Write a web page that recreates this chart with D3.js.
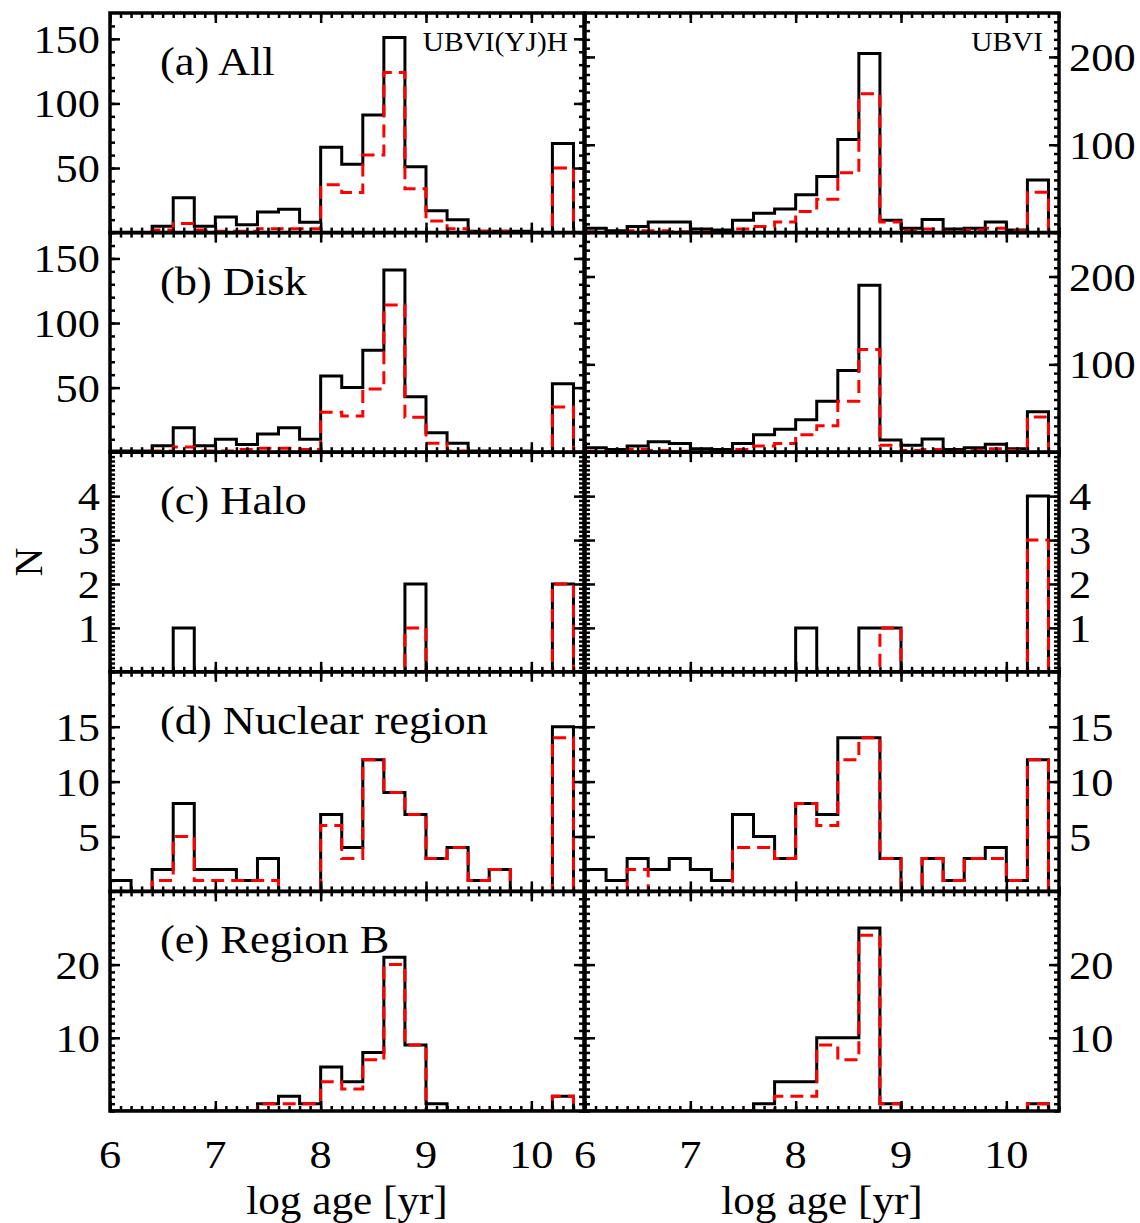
<!DOCTYPE html>
<html>
<head>
<meta charset="utf-8">
<title>log age histograms</title>
<script src="https://d3js.org/d3.v7.min.js"></script>
<style>
body { margin: 0; background: #fff; }
svg text { font-family: "Liberation Serif", "Times New Roman", serif; fill: #000; }
.solid { fill: none; stroke: #000; stroke-width: 3; }
.dash { fill: none; stroke: #ff0000; stroke-width: 3; stroke-dasharray: 13 7; }
.frame { fill: none; stroke: #000; stroke-width: 3.5; }
.ax path { display: none; }
.ax line { stroke: #000; stroke-width: 2.5; }
</style>
</head>
<body>
<script>
// lower edges of the log-age bins (0.2 dex wide)
var binLo = [6.0, 6.2, 6.4, 6.6, 6.8, 7.0, 7.2, 7.4, 7.6, 7.8, 8.0,
             8.2, 8.4, 8.6, 8.8, 9.0, 9.2, 9.4, 9.6, 9.8, 10.0, 10.2];
var binWidth = 0.2;

var panelNames = ["(a) All", "(b) Disk", "(c) Halo", "(d) Nuclear region", "(e) Region B"];
var colNames = ["UBVI(YJ)H", "UBVI"];

// left column: UBVI(YJ)H ; right column: UBVI
var aLeftSolid  = [0, 0, 5, 27, 5, 12, 6, 16, 18, 8, 66, 53, 91, 151, 51, 17, 10, 1, 1, 1, 0, 69];
var aLeftDash   = [0, 0, 2, 7, 2, 1, 1, 3, 3, 3, 37, 31, 60, 124, 34, 9, 3, 1, 1, 0, 0, 50];
var aRightSolid = [5, 2, 7, 12, 12, 4, 3, 14, 22, 27, 43, 64, 106, 204, 14, 5, 15, 4, 5, 12, 3, 60];
var aRightDash  = [1, 0, 2, 2, 1, 1, 0, 4, 7, 12, 24, 38, 68, 158, 12, 2, 4, 1, 3, 5, 2, 46];

var bLeftSolid  = [1, 1, 5, 19, 5, 10, 6, 14, 19, 10, 59, 50, 79, 141, 43, 15, 7, 1, 1, 1, 0, 53];
var bLeftDash   = [0, 0, 1, 4, 1, 1, 2, 3, 3, 2, 31, 28, 49, 114, 27, 7, 1, 0, 0, 0, 0, 35];
var bRightSolid = [5, 3, 7, 12, 10, 4, 3, 10, 20, 26, 37, 58, 93, 190, 14, 8, 15, 3, 5, 9, 4, 46];
var bRightDash  = [1, 0, 3, 2, 1, 0, 0, 3, 7, 10, 20, 30, 58, 117, 8, 2, 3, 1, 2, 4, 2, 40];

var cLeftSolid  = [0, 0, 0, 1, 0, 0, 0, 0, 0, 0, 0, 0, 0, 0, 2, 0, 0, 0, 0, 0, 0, 2];
var cLeftDash   = [0, 0, 0, 0, 0, 0, 0, 0, 0, 0, 0, 0, 0, 0, 1, 0, 0, 0, 0, 0, 0, 2];
var cRightSolid = [0, 0, 0, 0, 0, 0, 0, 0, 0, 0, 1, 0, 0, 1, 1, 0, 0, 0, 0, 0, 0, 4];
var cRightDash  = [0, 0, 0, 0, 0, 0, 0, 0, 0, 0, 0, 0, 0, 0, 1, 0, 0, 0, 0, 0, 0, 3];

var dLeftSolid  = [1, 0, 2, 8, 2, 2, 1, 3, 0, 0, 7, 4, 12, 9, 7, 3, 4, 1, 2, 0, 0, 15];
var dLeftDash   = [0, 0, 1, 5, 1, 1, 1, 1, 0, 0, 6, 3, 12, 9, 7, 3, 4, 1, 2, 0, 0, 14];
var dRightSolid = [2, 1, 3, 2, 3, 2, 1, 7, 5, 3, 8, 7, 14, 14, 3, 0, 3, 1, 3, 4, 1, 12];
var dRightDash  = [0, 0, 2, 0, 0, 0, 0, 4, 4, 3, 8, 6, 12, 14, 3, 0, 3, 1, 3, 3, 1, 12];

var eLeftSolid  = [0, 0, 0, 0, 0, 0, 0, 1, 2, 1, 6, 4, 8, 21, 9, 1, 0, 0, 0, 0, 0, 2];
var eLeftDash   = [0, 0, 0, 0, 0, 0, 0, 1, 1, 1, 4, 3, 7, 20, 9, 0, 0, 0, 0, 0, 0, 2];
var eRightSolid = [0, 0, 0, 0, 0, 0, 0, 0, 1, 4, 4, 10, 10, 25, 1, 0, 0, 0, 0, 0, 0, 1];
var eRightDash  = [0, 0, 0, 0, 0, 0, 0, 0, 0, 2, 2, 9, 7, 24, 1, 0, 0, 0, 0, 0, 0, 1];

// y ranges and ticks, one entry per row, [left, right]
var yMax = [[170, 250], [170, 250], [5, 5], [20, 20], [30, 30]];
var yTicks = [[[50, 100, 150], [100, 200]],
              [[50, 100, 150], [100, 200]],
              [[1, 2, 3, 4], [1, 2, 3, 4]],
              [[5, 10, 15], [5, 10, 15]],
              [[10, 20], [10, 20]]];
var yMinor = [[10, 10], [10, 10], [0.1, 0.1], [1, 1], [1, 1]];

var xTicks = [6, 7, 8, 9, 10];

var series = [
  [[aLeftSolid, aLeftDash], [aRightSolid, aRightDash]],
  [[bLeftSolid, bLeftDash], [bRightSolid, bRightDash]],
  [[cLeftSolid, cLeftDash], [cRightSolid, cRightDash]],
  [[dLeftSolid, dLeftDash], [dRightSolid, dRightDash]],
  [[eLeftSolid, eLeftDash], [eRightSolid, eRightDash]]
];

var W = 1140, H = 1223;
var colX = [[110, 584], [585, 1059]];
var top0 = 13, rowH = 219.6;
var stretch = 1.11; // glyphs in the original are a little wider than Times

var svg = d3.select("body").append("svg")
    .attr("width", W)
    .attr("height", H);

var minorX = d3.range(60, 106).map(function(d) { return d / 10; });

function label(parent, x, y, str, size, anchor, sx) {
  return parent.append("text")
      .attr("transform", "translate(" + x + "," + y + ") scale(" + (sx || stretch) + ",1)")
      .attr("text-anchor", anchor || "start")
      .style("font-size", size + "px")
      .text(str);
}

function stepPoints(vals) {
  var pts = [[binLo[0], 0]];
  vals.forEach(function(v, i) { pts.push([binLo[i], v]); });
  var last = binLo[binLo.length - 1] + binWidth;
  pts.push([last, vals[vals.length - 1]]);
  pts.push([last, 0]);
  return pts;
}

series.forEach(function(row, r) {
  var y0 = top0 + r * rowH, y1 = y0 + rowH;
  row.forEach(function(pair, c) {
    var x = d3.scaleLinear().domain([6, 10.5]).range(colX[c]);
    var y = d3.scaleLinear().domain([0, yMax[r][c]]).range([y1, y0]);
    var g = svg.append("g");

    var line = d3.line()
        .x(function(d) { return x(d[0]); })
        .y(function(d) { return y(d[1]); })
        .curve(d3.curveStepAfter);

    var clipId = "clip" + r + c;
    g.append("clipPath").attr("id", clipId)
      .append("rect")
        .attr("x", colX[c][0]).attr("y", y0)
        .attr("width", colX[c][1] - colX[c][0]).attr("height", rowH);

    g.append("path").datum(stepPoints(pair[0]))
        .attr("class", "solid")
        .attr("clip-path", "url(#" + clipId + ")")
        .attr("d", line);
    g.append("path").datum(stepPoints(pair[1]))
        .attr("class", "dash")
        .attr("clip-path", "url(#" + clipId + ")")
        .attr("d", line);

    // inward ticks on all four sides
    var step = yMinor[r][c];
    var yMin = d3.range(0, Math.floor(yMax[r][c] / step + 1e-6) + 1)
        .map(function(k) { return +(k * step).toFixed(3); })
        .filter(function(v) { return v < yMax[r][c]; });
    var sides = [
      [function() { return d3.axisBottom(x); }, "translate(0," + y1 + ")", minorX, xTicks],
      [function() { return d3.axisTop(x); }, "translate(0," + y0 + ")", minorX, xTicks],
      [function() { return d3.axisLeft(y); }, "translate(" + colX[c][0] + ",0)", yMin, yTicks[r][c]],
      [function() { return d3.axisRight(y); }, "translate(" + colX[c][1] + ",0)", yMin, yTicks[r][c]]
    ];
    sides.forEach(function(s) {
      g.append("g").attr("class", "ax").attr("transform", s[1])
        .call(s[0]().tickValues(s[2]).tickSize(-5).tickFormat(""));
      g.append("g").attr("class", "ax").attr("transform", s[1])
        .call(s[0]().tickValues(s[3]).tickSize(-10).tickFormat(""));
    });
    g.selectAll(".ax text").remove();

    g.append("rect").attr("class", "frame")
        .attr("x", colX[c][0]).attr("y", y0)
        .attr("width", colX[c][1] - colX[c][0]).attr("height", rowH);

    // y tick labels: left column on the left, right column on the right
    yTicks[r][c].forEach(function(d) {
      label(g, c === 0 ? colX[0][0] - 10 : colX[1][1] + 10, y(d) + 14, d, 40,
            c === 0 ? "end" : "start");
    });

    if (c === 0) {
      label(g, 160, y0 + 62, panelNames[r], 40);
    }
    if (r === 0) {
      label(g, colX[c][1] - 16, y0 + 38, colNames[c], 28, "end", 1.05);
    }
    if (r === series.length - 1) {
      xTicks.forEach(function(d) {
        label(g, x(d), y1 + 57, d, 40, "middle");
      });
      label(g, (colX[c][0] + colX[c][1]) / 2, y1 + 103, "log age [yr]", 40, "middle", 1.08);
    }
  });
});

svg.append("text")
    .attr("transform", "translate(42," + (top0 + 2.5 * rowH) + ") rotate(-90)")
    .attr("text-anchor", "middle")
    .style("font-size", "40px")
    .text("N");
</script>
</body>
</html>
